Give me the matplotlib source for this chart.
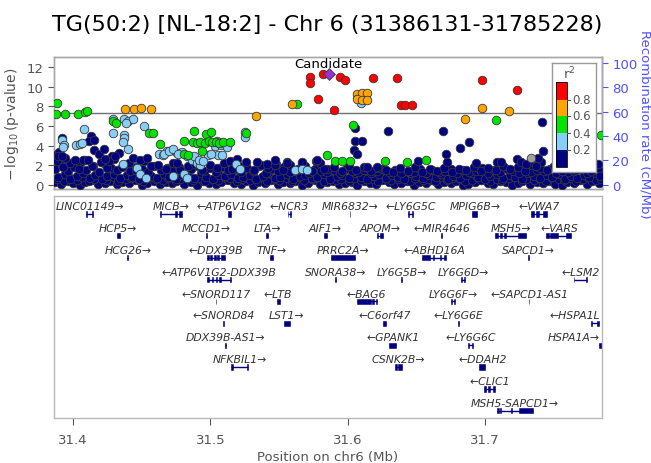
import matplotlib
matplotlib.use("Agg")
import matplotlib.pyplot as plt
from matplotlib.patches import Rectangle

W, H, DPI = 651, 464, 100

title_text = "TG(50:2) [NL-18:2] - Chr 6 (31386131-31785228)"
region = (31.386131, 31.785228)
gw_threshold = 7.3
x_ticks = [31.4, 31.5, 31.6, 31.7]
p_ticks = [0, 2, 4, 6, 8, 10, 12]
recomb_ticks = [0, 20, 40, 60, 80, 100]
r2_breaks = [0.2, 0.4, 0.6, 0.8]

# lead SNP (position in Mb, -log10 p)
candidate = (31.5861, 11.26)

# SNPs by LD class: (position Mb, -log10 p)
red_snps = [(31.5727, 10.99), (31.5729, 10.41), (31.5819, 11.26), (31.5945, 10.92),
            (31.5981, 10.65), (31.6188, 10.82), (31.5781, 8.75), (31.5902, 7.66),
            (31.6358, 10.82), (31.6390, 8.16), (31.6414, 8.16), (31.6467, 8.16),
            (31.6977, 10.62), (31.7232, 9.60)]
orange_snps = [(31.4376, 7.75), (31.4441, 7.75), (31.4497, 7.83), (31.4565, 7.68),
               (31.5329, 6.97), (31.5594, 8.20), (31.6065, 9.29), (31.6106, 9.39),
               (31.6142, 9.39), (31.6065, 8.70), (31.6106, 8.60), (31.6142, 8.67),
               (31.6977, 7.80), (31.6855, 6.73), (31.7176, 7.50)]
green_snps = [(31.3881, 8.34), (31.3876, 7.24), (31.3941, 7.24), (31.4038, 7.24),
              (31.4087, 7.45), (31.4101, 7.50), (31.4289, 6.46), (31.4313, 6.30),
              (31.4555, 5.30), (31.4582, 5.27), (31.4631, 4.18), (31.4878, 5.46),
              (31.4968, 5.20), (31.5002, 5.40), (31.4810, 4.46), (31.4871, 4.35),
              (31.4900, 4.30), (31.4926, 4.38), (31.4961, 4.30), (31.4990, 4.45),
              (31.5014, 4.35), (31.5038, 4.40), (31.5062, 4.32), (31.5091, 4.38),
              (31.5145, 4.40), (31.4939, 3.44), (31.4805, 3.16), (31.4837, 3.03),
              (31.5261, 5.27), (31.5630, 8.18), (31.6038, 6.12), (31.5849, 3.09),
              (31.5909, 2.45), (31.5958, 2.40), (31.6014, 2.40), (31.6274, 2.48),
              (31.6431, 2.35), (31.6573, 2.50), (31.7077, 6.63), (31.7843, 5.10)]
lightblue_snps = [(31.4077, 5.68), (31.3919, 4.62), (31.3934, 4.11), (31.3924, 3.90),
                  (31.4023, 4.08), (31.4048, 4.18), (31.4065, 4.25), (31.4289, 5.27),
                  (31.4369, 5.07), (31.4371, 4.76), (31.4363, 4.42), (31.4400, 3.67),
                  (31.4293, 6.73), (31.4371, 6.73), (31.4402, 6.46), (31.4438, 6.73),
                  (31.4385, 6.33), (31.4514, 5.99), (31.4361, 2.14), (31.4465, 1.73),
                  (31.4487, 1.12), (31.4534, 0.68), (31.4623, 3.16), (31.4652, 3.06),
                  (31.4681, 3.50), (31.4718, 3.60), (31.4754, 3.30), (31.4791, 3.40),
                  (31.4827, 2.95), (31.4863, 2.55), (31.4900, 2.20), (31.4924, 2.05),
                  (31.4984, 3.06), (31.5057, 3.06), (31.5118, 4.00), (31.5033, 4.00),
                  (31.5077, 4.05), (31.4660, 3.16), (31.4696, 3.50), (31.4730, 3.67),
                  (31.4766, 3.16), (31.4882, 2.99), (31.4918, 2.55), (31.4948, 2.48),
                  (31.5003, 3.16), (31.5088, 3.09), (31.5047, 4.46), (31.5077, 4.25),
                  (31.5120, 3.90), (31.5250, 5.38), (31.5254, 4.87), (31.5186, 2.14),
                  (31.5215, 1.63), (31.4731, 0.95), (31.4805, 1.12), (31.4829, 0.71),
                  (31.5616, 1.56), (31.5664, 1.60), (31.5701, 1.56), (31.6098, 8.34)]
grey_snps = [(31.7334, 2.76)]
navy_upper = [(31.3919, 4.76), (31.4130, 5.03), (31.4118, 4.46), (31.4150, 4.59),
              (31.3883, 3.16), (31.3900, 3.34), (31.3939, 2.76), (31.4149, 3.60),
              (31.4186, 3.16), (31.4223, 3.67), (31.4284, 2.99), (31.4332, 3.23),
              (31.4259, 2.42), (31.4014, 2.55), (31.4074, 2.55), (31.4111, 2.55),
              (31.3890, 2.95), (31.3918, 2.90), (31.4232, 2.65), (31.4305, 2.93),
              (31.4436, 2.70), (31.4485, 2.55), (31.4538, 2.70), (31.4754, 2.20),
              (31.4924, 2.30), (31.5142, 2.40), (31.5191, 2.60), (31.5337, 2.30),
              (31.5410, 2.10), (31.5470, 2.00), (31.5555, 2.30), (31.5664, 2.15),
              (31.5773, 2.40), (31.5472, 2.55), (31.5776, 2.55), (31.6052, 5.80),
              (31.6054, 4.46), (31.6103, 4.46), (31.6043, 3.57), (31.6067, 3.16),
              (31.6293, 5.44), (31.6691, 5.44), (31.6885, 4.36), (31.6819, 3.78),
              (31.6715, 3.16), (31.6722, 2.31), (31.6511, 2.42), (31.7414, 6.39),
              (31.7419, 3.44), (31.7232, 2.65), (31.7409, 2.31), (31.6938, 2.20),
              (31.7084, 2.30), (31.7120, 2.38), (31.7266, 2.31), (31.7302, 2.14),
              (31.7370, 1.90), (31.7387, 2.72), (31.7824, 2.14), (31.7836, 0.95),
              (31.5559, 2.20), (31.5669, 2.30), (31.5829, 1.60), (31.6139, 1.88),
              (31.6212, 1.80)]
navy_low = [(31.387, 0.3), (31.391, 0.1), (31.396, 0.4), (31.400, 0.2), (31.405, 0.0),
            (31.409, 0.3), (31.414, 0.5), (31.418, 0.1), (31.423, 0.2), (31.427, 0.4),
            (31.432, 0.1), (31.436, 0.3), (31.441, 0.2), (31.445, 0.5), (31.450, 0.0),
            (31.454, 0.2), (31.459, 0.4), (31.463, 0.1), (31.468, 0.3), (31.472, 0.2),
            (31.477, 0.5), (31.481, 0.1), (31.486, 0.3), (31.490, 0.0), (31.495, 0.4),
            (31.499, 0.2), (31.504, 0.1), (31.508, 0.3), (31.513, 0.5), (31.517, 0.2),
            (31.522, 0.1), (31.526, 0.4), (31.531, 0.0), (31.535, 0.3), (31.540, 0.2),
            (31.544, 0.5), (31.549, 0.1), (31.553, 0.3), (31.558, 0.2), (31.562, 0.4),
            (31.567, 0.0), (31.571, 0.2), (31.576, 0.5), (31.580, 0.1), (31.585, 0.3),
            (31.589, 0.4), (31.594, 0.1), (31.598, 0.2), (31.603, 0.3), (31.607, 0.0),
            (31.612, 0.4), (31.616, 0.2), (31.621, 0.1), (31.625, 0.5), (31.630, 0.3),
            (31.634, 0.1), (31.639, 0.2), (31.643, 0.4), (31.648, 0.0), (31.652, 0.3),
            (31.657, 0.2), (31.661, 0.5), (31.666, 0.1), (31.670, 0.3), (31.675, 0.2),
            (31.679, 0.4), (31.684, 0.0), (31.688, 0.1), (31.693, 0.3), (31.697, 0.5),
            (31.702, 0.2), (31.706, 0.1), (31.711, 0.4), (31.715, 0.3), (31.720, 0.0),
            (31.724, 0.2), (31.729, 0.5), (31.733, 0.1), (31.738, 0.3), (31.742, 0.2),
            (31.747, 0.4), (31.751, 0.1), (31.756, 0.0), (31.760, 0.3), (31.765, 0.2),
            (31.769, 0.5), (31.774, 0.1), (31.778, 0.4), (31.783, 0.2)]
navy_lowmid = [(31.3885, 0.6), (31.3932, 0.4), (31.3978, 0.7), (31.4026, 0.5), (31.4063, 0.8),
               (31.4117, 0.4), (31.4152, 0.6), (31.4208, 0.7), (31.4243, 0.5), (31.4296, 0.8),
               (31.4331, 0.4), (31.4388, 0.6), (31.4422, 0.7), (31.4477, 0.5), (31.4513, 0.4),
               (31.4566, 0.8), (31.4603, 0.6), (31.4657, 0.5), (31.4694, 0.7), (31.4748, 0.4),
               (31.4782, 0.6), (31.4836, 0.8), (31.4873, 0.5), (31.4927, 0.7), (31.4962, 0.4),
               (31.5018, 0.6), (31.5053, 0.5), (31.5106, 0.8), (31.5143, 0.7), (31.5197, 0.4),
               (31.5232, 0.6), (31.5288, 0.5), (31.5323, 0.7), (31.5377, 0.8), (31.5412, 0.4),
               (31.5468, 0.6), (31.5503, 0.5), (31.5556, 0.7), (31.5592, 0.4), (31.5647, 0.8),
               (31.5683, 0.5), (31.5738, 0.6), (31.5772, 0.7), (31.5826, 0.4), (31.5863, 0.8),
               (31.5917, 0.5), (31.5952, 0.6), (31.6008, 0.4), (31.6043, 0.7), (31.6096, 0.5),
               (31.6133, 0.8), (31.6187, 0.6), (31.6222, 0.4), (31.6278, 0.7), (31.6313, 0.5),
               (31.6366, 0.6), (31.6402, 0.8), (31.6457, 0.4), (31.6493, 0.7), (31.6547, 0.5),
               (31.6582, 0.6), (31.6636, 0.4), (31.6673, 0.8), (31.6727, 0.5), (31.6762, 0.7),
               (31.6816, 0.6), (31.6853, 0.4), (31.6907, 0.5), (31.6942, 0.8), (31.6996, 0.7),
               (31.7033, 0.4), (31.7087, 0.6), (31.7122, 0.5), (31.7176, 0.7), (31.7213, 0.8),
               (31.7267, 0.4), (31.7302, 0.6), (31.7356, 0.5), (31.7393, 0.7), (31.7447, 0.4),
               (31.7482, 0.8), (31.7536, 0.6), (31.7573, 0.5), (31.7627, 0.7), (31.7662, 0.4),
               (31.7716, 0.6), (31.7753, 0.8), (31.7806, 0.5), (31.7844, 0.6)]
navy_mid = [(31.389, 0.8), (31.394, 1.1), (31.398, 0.6), (31.403, 0.9), (31.407, 1.2),
            (31.412, 0.7), (31.416, 1.0), (31.421, 0.6), (31.425, 0.9), (31.430, 1.1),
            (31.434, 0.7), (31.439, 1.0), (31.443, 0.8), (31.448, 0.6), (31.452, 1.2),
            (31.457, 0.9), (31.461, 0.7), (31.466, 1.1), (31.470, 0.8), (31.475, 0.6),
            (31.479, 1.0), (31.484, 0.9), (31.488, 0.7), (31.493, 1.2), (31.497, 0.8),
            (31.502, 0.6), (31.506, 1.0), (31.511, 0.9), (31.515, 1.1), (31.520, 0.7),
            (31.524, 0.8), (31.529, 1.0), (31.533, 0.6), (31.538, 0.9), (31.542, 1.2),
            (31.547, 0.7), (31.551, 0.8), (31.556, 1.1), (31.560, 0.6), (31.565, 0.9),
            (31.569, 1.0), (31.574, 0.7), (31.578, 0.8), (31.583, 1.1), (31.587, 0.6),
            (31.592, 0.9), (31.596, 1.0), (31.601, 0.7), (31.605, 1.2), (31.610, 0.8),
            (31.614, 0.6), (31.619, 0.9), (31.623, 1.1), (31.628, 0.7), (31.632, 1.0),
            (31.637, 0.8), (31.641, 0.6), (31.646, 1.2), (31.650, 0.9), (31.655, 0.7),
            (31.659, 1.0), (31.664, 0.8), (31.668, 1.1), (31.673, 0.6), (31.677, 0.9),
            (31.682, 0.7), (31.686, 1.0), (31.691, 1.2), (31.695, 0.8), (31.700, 0.6),
            (31.704, 0.9), (31.709, 1.1), (31.713, 0.7), (31.718, 1.0), (31.722, 0.8),
            (31.727, 0.6), (31.731, 1.2), (31.736, 0.9), (31.740, 0.7), (31.745, 1.0),
            (31.749, 0.8), (31.754, 1.1), (31.758, 0.6), (31.763, 0.9), (31.767, 0.7),
            (31.772, 1.0), (31.776, 0.8), (31.781, 1.2), (31.785, 0.9)]
navy_midhigh = [(31.3872, 1.6), (31.3917, 2.0), (31.3962, 1.4), (31.4007, 1.8), (31.4052, 2.2),
                (31.4097, 1.5), (31.4142, 1.9), (31.4187, 1.3), (31.4232, 2.1), (31.4277, 1.7),
                (31.4322, 1.5), (31.4367, 2.0), (31.4412, 1.4), (31.4457, 1.8), (31.4502, 1.6),
                (31.4547, 1.3), (31.4592, 1.9), (31.4637, 1.5), (31.4682, 1.7), (31.4727, 1.4),
                (31.4772, 1.8), (31.4817, 1.3), (31.4862, 1.6), (31.4907, 1.9), (31.4952, 1.4),
                (31.4997, 1.7), (31.5042, 1.3), (31.5087, 1.8), (31.5132, 1.5), (31.5177, 1.6),
                (31.5222, 1.3), (31.5267, 1.7), (31.5312, 1.4), (31.5357, 1.9), (31.5402, 1.2),
                (31.5447, 1.6), (31.5492, 1.4), (31.5537, 1.8), (31.5582, 1.3), (31.5627, 1.5),
                (31.5672, 1.7), (31.5717, 1.2), (31.5762, 1.6), (31.5807, 1.4), (31.5852, 1.3),
                (31.5897, 1.5), (31.5942, 1.2), (31.5987, 1.6), (31.6032, 1.4), (31.6077, 1.3),
                (31.6122, 1.5), (31.6167, 1.2), (31.6212, 1.4), (31.6257, 1.6), (31.6302, 1.3),
                (31.6347, 1.5), (31.6392, 1.2), (31.6437, 1.4), (31.6482, 1.3), (31.6527, 1.6),
                (31.6572, 1.2), (31.6617, 1.5), (31.6662, 1.3), (31.6707, 1.4), (31.6752, 1.6),
                (31.6797, 1.2), (31.6842, 1.5), (31.6887, 1.3), (31.6932, 1.4), (31.6977, 1.7),
                (31.7022, 1.2), (31.7067, 1.5), (31.7112, 1.3), (31.7157, 1.6), (31.7202, 1.4),
                (31.7247, 1.2), (31.7292, 1.7), (31.7337, 1.3), (31.7382, 1.5), (31.7427, 1.4),
                (31.7472, 1.6), (31.7517, 1.2), (31.7562, 1.5), (31.7607, 1.3), (31.7652, 1.4),
                (31.7697, 1.6), (31.7742, 1.2), (31.7787, 1.5), (31.7832, 1.3)]
navy_high = [(31.388, 2.4), (31.393, 1.8), (31.398, 2.2), (31.404, 1.6), (31.409, 2.5),
             (31.414, 1.9), (31.420, 2.3), (31.425, 1.7), (31.430, 2.6), (31.436, 1.8),
             (31.441, 2.2), (31.446, 1.5), (31.452, 2.4), (31.457, 1.9), (31.462, 2.0),
             (31.468, 1.6), (31.473, 2.2), (31.478, 1.5), (31.484, 1.9), (31.489, 2.1),
             (31.494, 1.5), (31.500, 2.0), (31.505, 1.7), (31.510, 2.2), (31.516, 1.6),
             (31.521, 1.9), (31.526, 2.3), (31.532, 1.5), (31.537, 2.0), (31.542, 1.7),
             (31.548, 2.1), (31.553, 1.5), (31.558, 2.0), (31.564, 1.6), (31.569, 1.9),
             (31.574, 1.4), (31.580, 2.2), (31.585, 1.6), (31.590, 1.8), (31.596, 1.4),
             (31.601, 1.9), (31.606, 1.5), (31.612, 1.8), (31.617, 1.4), (31.622, 1.7),
             (31.628, 1.5), (31.633, 1.3), (31.638, 1.7), (31.644, 1.4), (31.649, 1.8),
             (31.654, 1.3), (31.660, 1.6), (31.665, 1.4), (31.670, 1.7), (31.676, 1.3),
             (31.681, 1.6), (31.686, 1.5), (31.692, 1.8), (31.697, 1.4), (31.702, 1.7),
             (31.708, 1.5), (31.713, 1.9), (31.718, 1.6), (31.724, 1.8), (31.729, 1.4),
             (31.734, 2.0), (31.740, 1.7), (31.745, 1.5), (31.750, 1.9), (31.756, 1.4),
             (31.761, 1.7), (31.766, 1.5), (31.772, 1.8), (31.777, 1.4), (31.782, 1.6)]

# recombination rate (cM/Mb)
recomb_pos = [31.3861, 31.400, 31.420, 31.440, 31.460, 31.480, 31.500, 31.520, 31.540,
              31.555, 31.5665, 31.5700, 31.5730, 31.580, 31.600, 31.620, 31.640,
              31.660, 31.680, 31.700, 31.720, 31.740, 31.760, 31.7852]
recomb_rate = [0.5, 0.8, 0.4, 0.6, 1.0, 0.7, 0.5, 0.9, 0.6, 1.2, 2.0, 15.0, 2.5, 0.8,
               0.5, 0.7, 0.4, 0.6, 0.9, 0.5, 0.8, 1.0, 0.6, 0.5]

# genes: name, start, end, row, strand, exons (Mb)
genes = [
    ("LINC01149", 31.4094, 31.4147, 0, "+", [(31.4094, 31.4100), (31.4141, 31.4147)]),
    ("MICB", 31.4633, 31.4791, 0, "+", [(31.4633, 31.4640), (31.4745, 31.4760), (31.4770, 31.4791)]),
    ("ATP6V1G2", 31.5126, 31.5150, 0, "-", [(31.5126, 31.5150)]),
    ("NCR3", 31.5563, 31.5587, 0, "-", [(31.5563, 31.5569), (31.5581, 31.5587)]),
    ("MIR6832", 31.6014, 31.6017, 0, "+", [(31.6014, 31.6017)]),
    ("LY6G5C", 31.6440, 31.6477, 0, "-", [(31.6440, 31.6448), (31.6468, 31.6477)]),
    ("MPIG6B", 31.6909, 31.6943, 0, "+", [(31.6909, 31.6943)]),
    ("VWA7", 31.7332, 31.7449, 0, "-", [(31.7332, 31.7360), (31.7370, 31.7390), (31.7420, 31.7449)]),
    ("HCP5", 31.4317, 31.4341, 1, "+", [(31.4317, 31.4341)]),
    ("MCCD1", 31.4970, 31.4976, 1, "+", [(31.4970, 31.4976)]),
    ("LTA", 31.5404, 31.5421, 1, "+", [(31.5404, 31.5421)]),
    ("AIF1", 31.5829, 31.5847, 1, "+", [(31.5829, 31.5847)]),
    ("APOM", 31.6211, 31.6259, 1, "+", [(31.6211, 31.6220), (31.6235, 31.6259)]),
    ("MIR4646", 31.6683, 31.6685, 1, "-", [(31.6683, 31.6685)]),
    ("MSH5", 31.7072, 31.7302, 1, "+", [(31.7072, 31.7095), (31.7110, 31.7125), (31.7140, 31.7150), (31.7240, 31.7302)]),
    ("VARS", 31.7448, 31.7630, 1, "-", [(31.7448, 31.7465), (31.7475, 31.7530), (31.7590, 31.7630)]),
    ("HCG26", 31.4395, 31.4402, 2, "+", [(31.4395, 31.4402)]),
    ("DDX39B", 31.4977, 31.5106, 2, "-", [(31.4977, 31.4990), (31.5000, 31.5015), (31.5025, 31.5040), (31.5050, 31.5065), (31.5075, 31.5106)]),
    ("TNF", 31.5434, 31.5458, 2, "+", [(31.5434, 31.5458)]),
    ("PRRC2A", 31.5877, 31.6052, 2, "+", [(31.5877, 31.6052)]),
    ("ABHD16A", 31.6545, 31.6715, 2, "-", [(31.6545, 31.6600), (31.6620, 31.6630), (31.6670, 31.6680), (31.6700, 31.6715)]),
    ("SAPCD1", 31.7316, 31.7322, 2, "+", [(31.7316, 31.7322)]),
    ("ATP6V1G2-DDX39B", 31.4977, 31.5150, 3, "-", [(31.4977, 31.4990), (31.5010, 31.5020), (31.5040, 31.5050), (31.5060, 31.5075), (31.5145, 31.5150)]),
    ("SNORA38", 31.5911, 31.5913, 3, "+", [(31.5911, 31.5913)]),
    ("LY6G5B", 31.6390, 31.6394, 3, "+", [(31.6390, 31.6394)]),
    ("LY6G6D", 31.6829, 31.6853, 3, "+", [(31.6829, 31.6834), (31.6848, 31.6853)]),
    ("LSM2", 31.7647, 31.7744, 3, "-", [(31.7647, 31.7652), (31.7739, 31.7744)]),
    ("SNORD117", 31.5040, 31.5042, 4, "-", [(31.5040, 31.5042)]),
    ("LTB", 31.5482, 31.5506, 4, "-", [(31.5482, 31.5506)]),
    ("BAG6", 31.6065, 31.6211, 4, "-", [(31.6065, 31.6170), (31.6180, 31.6195), (31.6205, 31.6211)]),
    ("LY6G6F", 31.6756, 31.6780, 4, "+", [(31.6756, 31.6762), (31.6774, 31.6780)]),
    ("SAPCD1-AS1", 31.7320, 31.7322, 4, "-", [(31.7320, 31.7322)]),
    ("SNORD84", 31.5093, 31.5095, 5, "-", [(31.5093, 31.5095)]),
    ("LST1", 31.5535, 31.5579, 5, "+", [(31.5535, 31.5579)]),
    ("C6orf47", 31.6260, 31.6280, 5, "-", [(31.6260, 31.6280)]),
    ("LY6G6E", 31.6800, 31.6812, 5, "-", [(31.6800, 31.6812)]),
    ("HSPA1L", 31.7774, 31.7834, 5, "-", [(31.7774, 31.7779), (31.7818, 31.7834)]),
    ("DDX39B-AS1", 31.5110, 31.5115, 6, "+", [(31.5110, 31.5115)]),
    ("GPANK1", 31.6302, 31.6354, 6, "-", [(31.6302, 31.6354)]),
    ("LY6G6C", 31.6877, 31.6916, 6, "-", [(31.6877, 31.6885), (31.6905, 31.6916)]),
    ("HSPA1A", 31.7833, 31.7857, 6, "+", [(31.7833, 31.7857)]),
    ("NFKBIL1", 31.5152, 31.5274, 7, "+", [(31.5152, 31.5162), (31.5265, 31.5274)]),
    ("CSNK2B", 31.6346, 31.6398, 7, "+", [(31.6346, 31.6360), (31.6370, 31.6398)]),
    ("DDAH2", 31.6960, 31.6999, 7, "-", [(31.6960, 31.6999)]),
    ("CLIC1", 31.6994, 31.7072, 8, "-", [(31.6994, 31.7010), (31.7025, 31.7040), (31.7055, 31.7072)]),
    ("MSH5-SAPCD1", 31.7086, 31.7347, 9, "+", [(31.7086, 31.7100), (31.7110, 31.7120), (31.7190, 31.7195), (31.7250, 31.7347)]),
]

NAVY = "#000080"
LIGHTBLUE = "#87CEFA"
GREEN = "#00E400"
ORANGE = "#FFA500"
RED = "#FF0000"
GREY = "#A0A0A0"
PURPLE = "#9632D2"
RECOMB_BLUE = "#5050FF"
TEXT_GREY = "#555555"
SPINE_GREY = "#A8A8A8"


def fx(x):
    return x / W


def fy(y):
    return 1 - y / H


fig = plt.figure(figsize=(W / DPI, H / DPI), dpi=DPI)
fig.text(fx(327), fy(25), title_text, ha="center", va="center", fontsize=16, color="black")

# ---------- association panel ----------
ax = fig.add_axes([fx(54), fy(190), fx(602) - fx(54), fy(58) - fy(190)])
ax.set_xlim(*region)
ax.set_ylim(-0.4, 13.0)
axr = ax.twinx()
axr.set_ylim(-3.5, 105)
axr.plot(recomb_pos, recomb_rate, color=RECOMB_BLUE, lw=1.0, zorder=1)
ax.set_zorder(axr.get_zorder() + 1)
ax.patch.set_visible(False)

ax.axhline(gw_threshold, color="#707070", lw=1.0, zorder=2)

MS = 38
def draw(points, color, z, marker="o", size=MS):
    xs = [p for p, _ in points]
    ys = [v for _, v in points]
    ax.scatter(xs, ys, s=size, c=color, marker=marker, edgecolors="#383838",
               linewidths=0.6, zorder=z)

for band in (navy_low, navy_lowmid, navy_mid, navy_midhigh, navy_high, navy_upper):
    draw(band, NAVY, 3)
draw(grey_snps, GREY, 3)
draw(lightblue_snps, LIGHTBLUE, 4)
draw(green_snps, GREEN, 5)
draw(orange_snps, ORANGE, 6)
draw(red_snps, RED, 7)
draw([candidate], PURPLE, 8, marker="D", size=36)
ax.text(candidate[0], 12.35, "Candidate", ha="center", va="center", fontsize=9.5,
        color="black", zorder=9)

ax.set_xticks([])
ax.set_yticks(p_ticks)
ax.tick_params(axis="y", colors=TEXT_GREY, labelsize=9.5, length=4, width=0.8)
ax.set_ylabel(r"$-\,\log_{10}$(p-value)", color=TEXT_GREY, fontsize=10, labelpad=4)
axr.set_yticks(recomb_ticks)
axr.tick_params(axis="y", colors=RECOMB_BLUE, labelsize=9.5, length=4, width=0.8)
axr.set_ylabel("Recombination rate (cM/Mb)", color=RECOMB_BLUE, fontsize=9.5,
               rotation=270, labelpad=10)
for a in (ax, axr):
    for s in a.spines.values():
        s.set_color(SPINE_GREY)
        s.set_linewidth(1.0)
axr.spines["right"].set_color(RECOMB_BLUE)

# ---------- r^2 legend ----------
leg = fig.add_axes([fx(551.7), fy(173.3), fx(596) - fx(551.7), fy(64) - fy(173.3)])
leg.set_zorder(20)
leg.set_xlim(551.7, 596)
leg.set_ylim(173.3, 64)
leg.set_xticks([])
leg.set_yticks([])
for s in leg.spines.values():
    s.set_color("#999999")
    s.set_linewidth(1.0)
bounds = [168, 150.7, 134, 117, 100.7, 83]
bar_cols = [NAVY, LIGHTBLUE, GREEN, ORANGE, RED]
for i, col in enumerate(bar_cols):
    leg.add_patch(Rectangle((556, bounds[i + 1]), 11.3, bounds[i] - bounds[i + 1],
                            facecolor=col, edgecolor="none"))
leg.add_patch(Rectangle((556, 83), 11.3, 85, facecolor="none", edgecolor="black", lw=0.6))
for yb, lab in zip(bounds[1:5], r2_breaks):
    leg.plot([567.3, 570.5], [yb, yb], color=TEXT_GREY, lw=0.8)
    leg.text(572, yb, f"{lab:.1f}", va="center", ha="left", fontsize=8.5, color=TEXT_GREY)
leg.text(569, 74, r"r$^2$", ha="center", va="center", fontsize=9.5, color=TEXT_GREY)

# ---------- gene panel ----------
axg = fig.add_axes([fx(54), fy(419), fx(602) - fx(54), fy(197) - fy(419)])
axg.set_xlim(*region)
axg.set_ylim(-9.33, 0.82)
axg.set_yticks([])
axg.set_xticks(x_ticks)
axg.set_xticklabels([f"{t:.1f}" for t in x_ticks])
axg.tick_params(axis="x", colors=TEXT_GREY, labelsize=9.5, length=5, width=0.8, pad=6)
axg.set_xlabel("Position on chr6 (Mb)", color=TEXT_GREY, fontsize=9.5, labelpad=3)
for s in axg.spines.values():
    s.set_color("#B8B8B8")
    s.set_linewidth(1.0)

labels = []
for name, start, end, row, strand, exons in genes:
    yrow = -row
    axg.plot([start, end], [yrow, yrow], color=NAVY, lw=1.0, solid_capstyle="butt")
    for es, ee in exons:
        w = max(ee - es, 0.0004)
        axg.add_patch(Rectangle((es, yrow - 0.12), w, 0.24, facecolor=NAVY,
                                edgecolor=NAVY, lw=0.4))
    txt = f"{name}\u2192" if strand == "+" else f"\u2190{name}"
    t = axg.text((start + end) / 2, yrow + 0.36, txt, ha="center", va="center",
                 fontsize=7.8, style="italic", color="#333333")
    labels.append(t)

# keep gene labels inside the panel
fig.canvas.draw()
rend = fig.canvas.get_renderer()
gbb = axg.get_window_extent(rend)
mb_per_px = (region[1] - region[0]) / gbb.width
for t in labels:
    bb = t.get_window_extent(rend)
    x0 = t.get_position()[0]
    if bb.x1 > gbb.x1 - 2:
        t.set_x(x0 - (bb.x1 - (gbb.x1 - 2)) * mb_per_px)
    elif bb.x0 < gbb.x0 + 2:
        t.set_x(x0 + ((gbb.x0 + 2) - bb.x0) * mb_per_px)

fig.savefig("out.png", dpi=DPI)
